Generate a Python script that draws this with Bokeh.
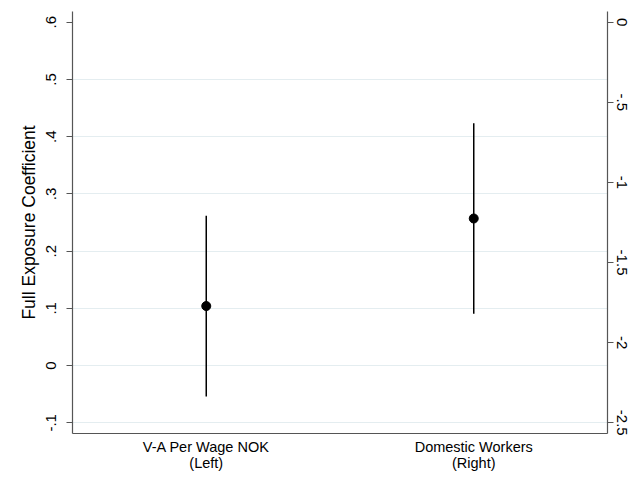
import math
from bokeh.plotting import figure
from bokeh.models import Range1d, LinearAxis, FixedTicker, ColumnDataSource
from bokeh.embed import file_html
from bokeh.resources import INLINE

# ---- data ----
categories = ["V-A Per Wage NOK\n(Left)", "Domestic Workers\n(Right)"]
cat_pos = [1, 2]
coef_left = [0.104]
lo_left = [-0.054]
hi_left = [0.262]
coef_right = [-1.225]
lo_right = [-1.819]
hi_right = [-0.631]

left_ticks = [-0.1, 0.0, 0.1, 0.2, 0.3, 0.4, 0.5, 0.6]
left_labels = ["-.1", "0", ".1", ".2", ".3", ".4", ".5", ".6"]
right_ticks = [0.0, -0.5, -1.0, -1.5, -2.0, -2.5]
right_labels = ["0", "-.5", "-1", "-1.5", "-2", "-2.5"]

FONT = "Liberation Sans"

pad_l = 0.0187
pad_r = pad_l * 2.5 / 0.7

W, H = 634, 492
p = figure(width=W, height=H, output_backend="svg", toolbar_location=None,
           x_range=Range1d(0.5, 2.5),
           y_range=Range1d(-0.1 - pad_l, 0.6 + pad_l),
           min_border_left=72, min_border_right=W - 607, min_border_top=11,
           min_border_bottom=H - 433)
p.extra_y_ranges = {"right": Range1d(-2.5 - pad_r, 0.0 + pad_r)}
p.outline_line_color = None
p.background_fill_color = "white"
p.border_fill_color = "white"

# grid
p.xgrid.visible = False
p.ygrid.ticker = FixedTicker(ticks=left_ticks[:-1])
p.ygrid.grid_line_color = "#e4edf0"
p.ygrid.grid_line_width = 1

AX = "#555555"

# bottom axis
xa = p.xaxis[0]
xa.ticker = FixedTicker(ticks=cat_pos)
xa.major_label_overrides = {c: l for c, l in zip(cat_pos, categories)}
xa.major_tick_line_color = None
xa.minor_tick_line_color = None
xa.axis_line_color = AX
xa.axis_line_width = 1.2
xa.major_label_text_font = FONT
xa.major_label_text_font_size = "14.5px"
xa.major_label_text_color = "black"
xa.major_label_standoff = -1
xa.major_label_text_line_height = 1.0

# left axis
ya = p.yaxis[0]
ya.ticker = FixedTicker(ticks=left_ticks)
ya.major_label_overrides = {t: l for t, l in zip(left_ticks, left_labels)}
ya.minor_tick_line_color = None
ya.major_tick_in = 0
ya.major_tick_out = 6
ya.major_tick_line_color = AX
ya.axis_line_color = AX
ya.axis_line_width = 1.2
ya.major_label_orientation = "vertical"
ya.major_label_text_font = FONT
ya.major_label_text_font_size = "15px"
ya.major_label_text_color = "black"
ya.major_label_standoff = 10
ya.axis_label = "Full Exposure Coefficient"
ya.axis_label_text_font = FONT
ya.axis_label_text_font_size = "17.5px"
ya.axis_label_text_font_style = "normal"
ya.axis_label_text_color = "black"
ya.axis_label_standoff = 5

# right axis
ra = LinearAxis(y_range_name="right")
ra.ticker = FixedTicker(ticks=right_ticks)
ra.major_label_overrides = {t: l for t, l in zip(right_ticks, right_labels)}
ra.minor_tick_line_color = None
ra.major_tick_in = 0
ra.major_tick_out = 6
ra.major_tick_line_color = AX
ra.axis_line_color = AX
ra.axis_line_width = 1.2
ra.major_label_orientation = "vertical"
ra.major_label_text_font = FONT
ra.major_label_text_font_size = "15px"
ra.major_label_text_color = "black"
ra.major_label_standoff = 3
p.add_layout(ra, "right")

# left series
src_l = ColumnDataSource(dict(x=[cat_pos[0]], y=coef_left, lo=lo_left, hi=hi_left))
p.segment(x0="x", y0="lo", x1="x", y1="hi", source=src_l, line_color="black", line_width=1.5)
p.scatter(x="x", y="y", source=src_l, size=9, fill_color="black", line_color="black")

# right series
src_r = ColumnDataSource(dict(x=[cat_pos[1]], y=coef_right, lo=lo_right, hi=hi_right))
p.segment(x0="x", y0="lo", x1="x", y1="hi", source=src_r, line_color="black", line_width=1.5,
          y_range_name="right")
p.scatter(x="x", y="y", source=src_r, size=9, fill_color="black", line_color="black",
          y_range_name="right")

open("out.html", "w").write(file_html(p, INLINE))
